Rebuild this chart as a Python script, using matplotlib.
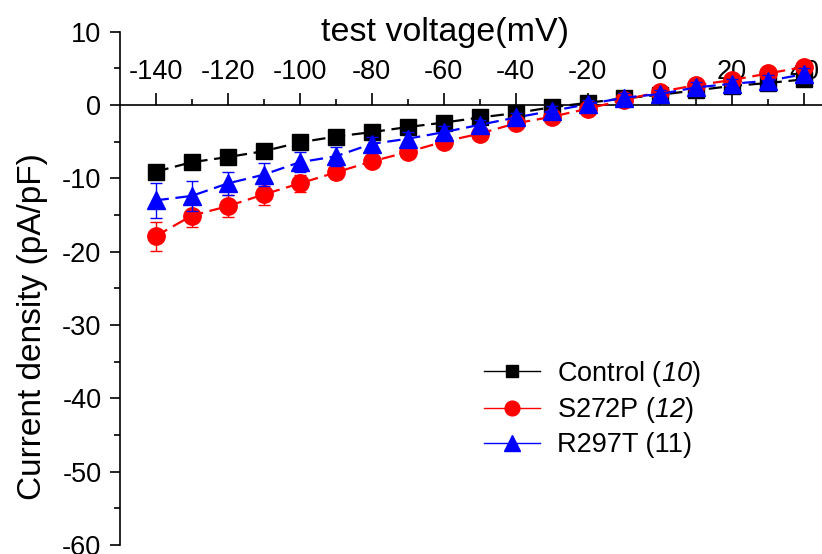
import numpy as np
import matplotlib
matplotlib.use('Agg')
from matplotlib import pyplot as plt
from matplotlib.lines import Line2D

plt.rcParams['font.family'] = ['Liberation Sans', 'DejaVu Sans']
plt.rcParams['mathtext.fontset'] = 'custom'
plt.rcParams['mathtext.rm'] = 'Liberation Sans'
# digits in \mathit get forced upright, so the sf slot carries the italic face
plt.rcParams['mathtext.sf'] = 'Liberation Sans:italic'
plt.rcParams['axes.unicode_minus'] = False

# test voltages (mV)
voltage = [-140, -130, -120, -110, -100, -90, -80, -70, -60, -50,
           -40, -30, -20, -10, 0, 10, 20, 30, 40]

# current density (pA/pF), mean and error
control = [-9.1, -7.8, -7.1, -6.3, -5.1, -4.3, -3.7, -3.0, -2.4, -1.7,
           -1.1, -0.3, 0.3, 0.9, 1.4, 2.0, 2.6, 3.0, 3.5]
control_err = [0.8, 0.7, 0.6, 0.6, 0.5, 0.4, 0.4, 0.3, 0.3, 0.3,
               0.2, 0.2, 0.2, 0.2, 0.2, 0.3, 0.3, 0.4, 0.5]

s272p = [-17.9, -15.1, -13.8, -12.2, -10.7, -9.2, -7.7, -6.4, -5.0, -3.9,
         -2.5, -1.6, -0.5, 0.7, 1.8, 2.7, 3.4, 4.3, 5.2]
s272p_err = [2.0, 1.6, 1.5, 1.4, 1.1, 0.9, 0.8, 0.7, 0.6, 0.5,
             0.5, 0.5, 0.5, 0.4, 0.4, 0.4, 0.5, 0.5, 0.6]

r297t = [-13.0, -12.4, -10.7, -9.5, -7.8, -7.0, -5.3, -4.6, -3.7, -2.7,
         -1.7, -0.8, 0.1, 1.0, 1.5, 2.4, 2.9, 3.3, 4.2]
r297t_err = [2.4, 2.1, 1.6, 1.6, 1.4, 1.3, 1.0, 0.9, 0.8, 0.6,
             0.6, 0.6, 0.6, 0.6, 0.6, 0.7, 0.7, 0.8, 0.8]

labels = ['Control ($\\mathsf{10}$)', 'S272P ($\\mathsf{12}$)', 'R297T (11)']

fig = plt.figure(figsize=(8.22, 5.54), dpi=100)
ax = fig.add_axes([0.1454, 0.0162, 0.8546, 0.9266])

series = [(control, control_err, 'black', 's', 11),
          (s272p, s272p_err, 'red', 'o', 12.5),
          (r297t, r297t_err, 'blue', '^', 13.5)]

handles = []
for k, (vals, err, col, mk, ms) in enumerate(series):
    ax.errorbar(voltage, vals, yerr=err, color=col, ecolor=col, elinewidth=1,
                capsize=4, capthick=1, fmt='none', zorder=2 + k)
    ax.plot(voltage, vals, color=col, linestyle=(0, (6, 3)), linewidth=1.6,
            marker=mk, markersize=ms, markeredgecolor=col, zorder=2 + k)
    handles.append(Line2D([], [], color=col, linewidth=1.0, marker=mk,
                          markersize=ms * 0.85, markeredgecolor=col))

ax.set_xlim(-150, 45)
ax.set_ylim(-60, 10)

# x axis sits at y = 0 with ticks and labels above it
ax.spines['bottom'].set_visible(False)
ax.spines['right'].set_visible(False)
ax.spines['top'].set_position(('data', 0))
ax.xaxis.set_ticks_position('top')
ax.xaxis.set_label_position('top')
for s in ['top', 'left']:
    ax.spines[s].set_linewidth(1.2)

ax.set_xticks(np.arange(-140, 41, 20))
ax.set_xticks(np.arange(-140, 41, 10), minor=True)
ax.set_yticks(np.arange(-60, 11, 10))
ax.set_yticks(np.arange(-55, 10, 10), minor=True)

ax.tick_params(axis='x', which='major', direction='out', length=8.5, width=1.2,
               labelsize=19.5, pad=6)
ax.tick_params(axis='x', which='minor', direction='out', length=4.5, width=1.2)
ax.tick_params(axis='y', which='major', direction='out', length=7, width=1.2,
               labelsize=19.5, pad=6)
ax.tick_params(axis='y', which='minor', direction='out', length=4, width=1.2)

ax.text(445 / 822, 1 - 32 / 554, 'test voltage(mV)', transform=fig.transFigure,
        ha='center', va='center', fontsize=24.5)
ax.text(32 / 822, 1 - 327 / 554, 'Current density (pA/pF)', transform=fig.transFigure,
        ha='center', va='center', rotation=90, fontsize=24)

ax.legend(handles, labels, loc='upper left', bbox_to_anchor=(470 / 822, 1 - 345 / 554),
          bbox_transform=fig.transFigure, frameon=False, fontsize=19.5,
          handlelength=2.1, handletextpad=0.6, labelspacing=0.25, borderpad=0)

fig.savefig('out.png', dpi=100)
